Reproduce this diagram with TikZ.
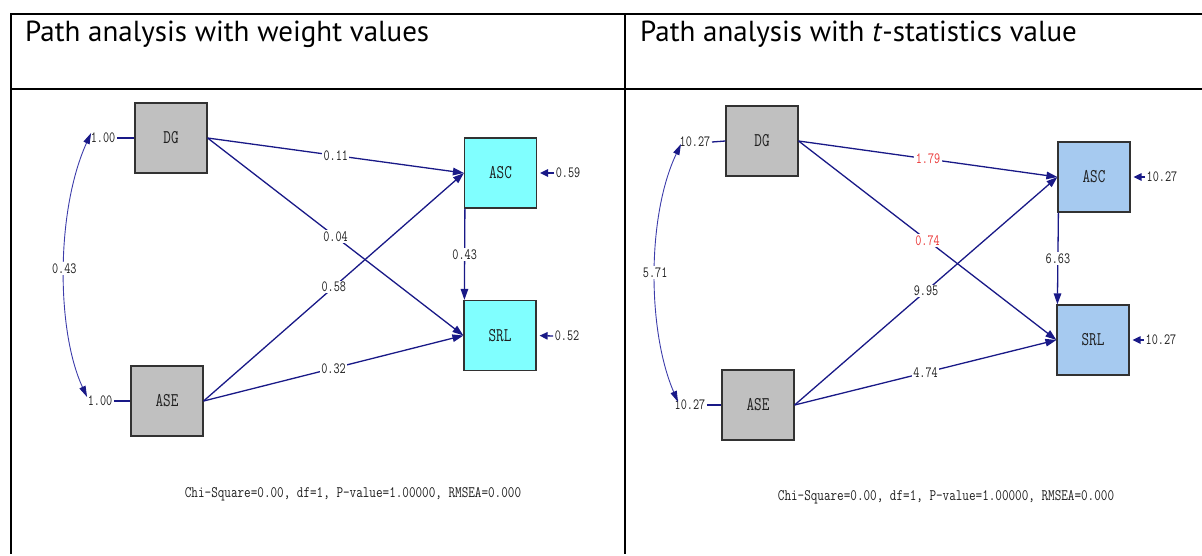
\documentclass[tikz,border=0pt]{standalone}
\usepackage{fontspec}
\usepackage{graphicx}
\setmainfont{PT Sans}
\usetikzlibrary{arrows.meta}
\definecolor{navy}{RGB}{25,25,135}
\definecolor{covc}{RGB}{60,60,170}
\definecolor{labc}{RGB}{30,30,30}
\definecolor{redc}{RGB}{235,55,55}
\definecolor{greyf}{RGB}{192,192,192}
\definecolor{cyanf}{RGB}{128,255,255}
\definecolor{bluef}{RGB}{166,202,240}
\definecolor{boxl}{RGB}{50,50,50}
\newcommand\Lst[1]{\scalebox{0.95}[1.25]{#1}}
\newcommand\Fst[1]{\scalebox{1}[1.25]{#1}}
\tikzset{
  box/.style={draw=boxl, line width=1.2pt, minimum width=72pt, minimum height=70pt, inner sep=0pt,
    font=\fontsize{15.5}{17}\selectfont\ttfamily, text=labc},
  lab/.style={fill=white, inner sep=1.5pt, text=labc, font=\fontsize{12.5}{14}\selectfont\ttfamily},
  rlab/.style={lab, text=redc},
  conn/.style={draw=navy, line width=1.3pt, -{Triangle[length=11pt,width=7.5pt]}},
  plain/.style={draw=navy, line width=1.3pt},
  cov/.style={draw=covc, line width=0.9pt, {Triangle[length=11pt,width=6.5pt,color=navy]}-{Triangle[length=11pt,width=6.5pt,color=navy]}},
  err/.style={draw=navy, line width=1.3pt, -{Triangle[length=8pt,width=7.5pt]}, shorten >=3pt},
  rule/.style={line width=2pt, draw=black},
  head/.style={anchor=base west, inner sep=0pt, font=\fontsize{29}{34}\selectfont},
  fit/.style={inner sep=0pt, text=labc, font=\fontsize{12.8}{15}\selectfont\ttfamily}
}
\begin{document}
\begin{tikzpicture}[x=1pt,y=-1pt]
\useasboundingbox (0,0) rectangle (1202,555);
% table rules
\coordinate (tl) at (11,14);
\coordinate (tr) at (1202,14);
\coordinate (hl) at (11,89);
\coordinate (hr) at (1202,89);
\coordinate (bl) at (11,554);
\coordinate (tm) at (625,14);
\coordinate (bm) at (625,554);
\draw[rule] (tr) -- (tl) -- (bl);
\draw[rule] (hl) -- (hr);
\draw[rule] (tm) -- (bm);
\node[head] (h1) at (25,41) {Path analysis with weight values};
\node[head] (h2) at (640,41) {Path analysis with \textit{t}-statistics value};

% ---------- left panel ----------
\node[box, fill=greyf] (DG) at (171,138) {\Lst{DG}};
\node[box, fill=greyf] (ASE) at (167,401) {\Lst{ASE}};
\node[box, fill=cyanf] (ASC) at (500.5,173) {\Lst{ASC}};
\node[box, fill=cyanf] (SRL) at (500,335.5) {\Lst{SRL}};

\node[lab] (v1) at (103,138) {\Lst{1.00}};
\node[lab] (v2) at (100,401) {\Lst{1.00}};
\draw[plain] (v1.east) -- (DG.west);
\draw[plain] (v2.east) -- (ASE.west);
\draw[cov] ([xshift=2pt,yshift=5pt]v1.west) .. controls (56,210) and (56,330) .. node[lab]{\Lst{0.43}} ([xshift=1pt,yshift=4pt]v2.west);

\draw[conn] (DG.east) -- node[lab]{\Lst{0.11}} (ASC.west);
\draw[conn] (DG.east) -- node[lab]{\Lst{0.04}} (SRL.west);
\draw[conn] (ASE.east) -- node[lab]{\Lst{0.58}} (ASC.west);
\draw[conn] (ASE.east) -- node[lab]{\Lst{0.32}} (SRL.west);
\draw[conn] ([xshift=1pt]ASC.south west) -- node[lab]{\Lst{0.43}} ([xshift=1pt]SRL.north west);

\node[lab] (e1) at (568,173) {\Lst{0.59}};
\node[lab] (e2) at (567,336) {\Lst{0.52}};
\draw[err] (e1.west) -- (ASC.east);
\draw[err] (e2.west) -- (SRL.east);

\node[fit] (fit1) at (353,494) {\Fst{Chi-Square=0.00, df=1, P-value=1.00000, RMSEA=0.000}};

% ---------- right panel ----------
\node[box, fill=greyf] (DG2) at (762,141) {\Lst{DG}};
\node[box, fill=greyf] (ASE2) at (758,405) {\Lst{ASE}};
\node[box, fill=bluef] (ASC2) at (1094,177) {\Lst{ASC}};
\node[box, fill=bluef] (SRL2) at (1093,340) {\Lst{SRL}};

\node[lab] (w1) at (695,142) {\Lst{10.27}};
\node[lab] (w2) at (690,405) {\Lst{10.27}};
\draw[plain] (w1.east) -- (DG2.west);
\draw[plain] (w2.east) -- (ASE2.west);
\draw[cov] ([xshift=3pt,yshift=-2pt]w1.west) .. controls (647,215) and (647,330) .. node[lab]{\Lst{5.71}} ([xshift=5pt,yshift=3pt]w2.west);

\draw[conn] (DG2.east) -- node[rlab]{\Lst{1.79}} (ASC2.west);
\draw[conn] (DG2.east) -- node[rlab]{\Lst{0.74}} (SRL2.west);
\draw[conn] (ASE2.east) -- node[lab]{\Lst{9.95}} (ASC2.west);
\draw[conn] (ASE2.east) -- node[lab]{\Lst{4.74}} (SRL2.west);
\draw[conn] ([xshift=1pt]ASC2.south west) -- node[lab]{\Lst{6.63}} ([xshift=1pt]SRL2.north west);

\node[lab] (f1) at (1162,177) {\Lst{10.27}};
\node[lab] (f2) at (1161,340) {\Lst{10.27}};
\draw[err] (f1.west) -- (ASC2.east);
\draw[err] (f2.west) -- (SRL2.east);

\node[fit] (fit2) at (946,497) {\Fst{Chi-Square=0.00, df=1, P-value=1.00000, RMSEA=0.000}};
\end{tikzpicture}
\end{document}
